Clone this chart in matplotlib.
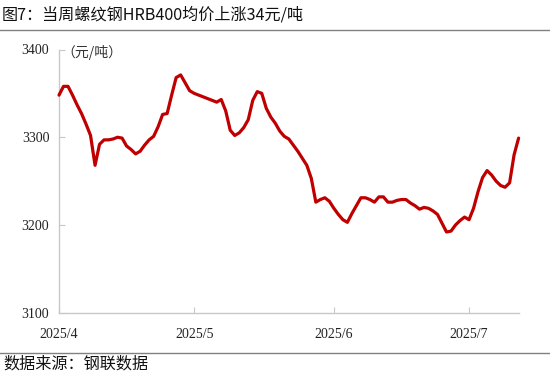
import matplotlib
matplotlib.use('Agg')
import matplotlib.pyplot as plt
import matplotlib.dates as mdates
from matplotlib.lines import Line2D
import pandas as pd

# ---- data ----
start_date = '2025-04-01'
end_date = '2025-07-12'
apr = [3348, 3358, 3358, 3348, 3337, 3327, 3315, 3302, 3268, 3292,
       3297, 3297, 3298, 3300, 3299, 3290, 3286, 3281, 3284, 3291,
       3297, 3301, 3312, 3326, 3327, 3348, 3368, 3371, 3362, 3353]
may = [3350, 3348, 3346, 3344, 3342, 3340, 3343, 3330, 3308, 3302,
       3305, 3311, 3320, 3342, 3352, 3350, 3333, 3323, 3316, 3307,
       3301, 3298, 3291, 3284, 3276, 3268, 3253, 3226, 3229, 3231,
       3227]
jun = [3219, 3212, 3206, 3203, 3213, 3222, 3231, 3231, 3229, 3226,
       3232, 3232, 3226, 3226, 3228, 3229, 3229, 3225, 3222, 3218,
       3220, 3219, 3216, 3212, 3202, 3192, 3193, 3200, 3205, 3209]
jul = [3206, 3219, 3238, 3254, 3262, 3257, 3250, 3245, 3243, 3248,
       3280, 3299]
prices = apr + may + jun + jul
dates = pd.date_range(start_date, end_date, freq='D')

tick_dates = ['2025-04-01', '2025-05-01', '2025-06-01', '2025-07-01']
tick_labels = ['2025/4', '2025/5', '2025/6', '2025/7']
y_ticks = [3100, 3200, 3300, 3400]

title = '图7：当周螺纹钢HRB400均价上涨34元/吨'
unit = '（元/吨）'
source = '数据来源：钢联数据'

# ---- figure ----
W, H = 550, 381
fig = plt.figure(figsize=(W / 100, H / 100), dpi=100)
fig.patch.set_facecolor('white')

ax_l, ax_r, ax_t, ax_b = 59, 518.6, 49.5, 312.7
ax = fig.add_axes([ax_l / W, 1 - ax_b / H, (ax_r - ax_l) / W, (ax_b - ax_t) / H])

ax.plot(dates, prices, color='#C00000', lw=2.3, solid_joinstyle='round',
        solid_capstyle='round', clip_on=False, zorder=3)

ax.set_xlim(pd.Timestamp(start_date), pd.Timestamp(end_date))
ax.set_ylim(3100, 3400)
ax.set_yticks(y_ticks)
ax.set_xticks([pd.Timestamp(d) for d in tick_dates])
ax.set_xticklabels(tick_labels)

for s in ['top', 'right']:
    ax.spines[s].set_visible(False)
for s in ['left', 'bottom']:
    ax.spines[s].set_color('#C8C8C8')
    ax.spines[s].set_linewidth(1.0)

ax.tick_params(axis='both', direction='in', length=4, width=0.8, color='#C8C8C8',
               labelsize=10, labelcolor='#222222')
ax.tick_params(axis='y', pad=7)
ax.tick_params(axis='x', pad=11)
for lab in ax.get_xticklabels() + ax.get_yticklabels():
    lab.set_fontfamily('Liberation Serif')

# unit label
fig.text(61 / W, 1 - 52 / H, unit, fontsize=10, va='center', ha='left',
         family=['Noto Sans CJK SC', 'DejaVu Sans'], color='#333333')

# title and separators
fig.text(2 / W, 1 - 15 / H, title, fontsize=11.6, va='center', ha='left',
         family=['Noto Sans CJK SC', 'DejaVu Sans'], color='#111111')
fig.add_artist(Line2D([0, 1], [1 - 29.5 / H, 1 - 29.5 / H], color='#808080', lw=1.0,
                      transform=fig.transFigure))
fig.add_artist(Line2D([0, 1], [1 - 352.5 / H, 1 - 352.5 / H], color='#808080', lw=1.0,
                      transform=fig.transFigure))
fig.text(3 / W, 1 - 364 / H, source, fontsize=11.6, va='center', ha='left',
         family=['Noto Sans CJK SC', 'DejaVu Sans'], color='#111111')

fig.savefig('out.png', dpi=100, facecolor='white')
